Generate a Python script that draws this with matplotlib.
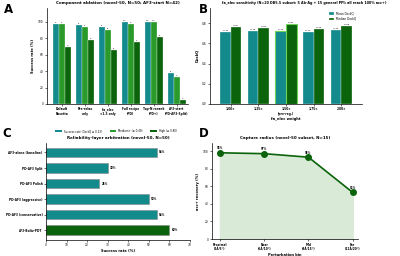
import numpy as np
import matplotlib.pyplot as plt
from matplotlib.patches import Patch

# colours
teal = '#138a8c'
green = '#2a9a2a'
dkgreen = '#0b640b'

# panel A data
abl_labels = ['Default\nRosetta', 'Pre-relax\nonly', 'fa_elec\n×1.5 only', 'Full recipe\n(PD)',
              'Top-N rerank\n(PD+)', 'AF3-start\n(PD-AF3-Split)']
abl_success = [98, 96, 94, 100, 100, 38]
abl_medium = [98, 94, 90, 98, 100, 33]
abl_high = [70, 78, 66, 76, 82, 5]

# panel B data
fa_labels = ['1.00×', '1.25×', '1.50×\n(pre-reg.)', '1.75×', '2.00×']
fa_mean = [0.714, 0.719, 0.724, 0.712, 0.732]
fa_median = [0.757, 0.750, 0.794, 0.745, 0.768]

# panel C data
arb_labels = ['AF3-alone (baseline)', 'PD-AF3 Split', 'PD-AF3 Polish', 'PD-AF3 (aggressive)',
              'PD-AF3 (conservative)', 'AF3-Boltz-PDT']
arb_rates = [54, 30, 26, 50, 54, 60]

# panel D data
bin_labels = ['Proximal\n(2Å/5°)', 'Near\n(5Å/10°)', 'Mid\n(8Å/15°)', 'Far\n(12Å/20°)']
recovery = [98, 97, 93, 53]

tfs = 2.1   # tick font size
lfs = 2.6   # axis label size
ttl = 2.9   # title size
bfs = 1.6   # bar label size

fig = plt.figure(figsize=(4, 2.56), dpi=100)

def style(ax):
    for s in ['top', 'right']:
        ax.spines[s].set_visible(False)
    for s in ['left', 'bottom']:
        ax.spines[s].set_linewidth(0.5)
    ax.tick_params(labelsize=tfs, width=0.4, length=1.5, pad=1)

#A: component ablation
axA = fig.add_axes([0.1175, 0.594, 0.353, 0.375])
x = np.arange(len(abl_labels))
w = 0.26
for off, vals, c in [(-w, abl_success, teal), (0, abl_medium, green), (w, abl_high, dkgreen)]:
    bars = axA.bar(x + off, vals, w, color=c, edgecolor='white', linewidth=0.2)
    for b, v in zip(bars, vals):
        axA.text(b.get_x() + b.get_width()/2, v + 1, str(v), ha='center', va='bottom', fontsize=bfs * 0.8)
axA.set_xticks(x)
axA.set_xticklabels(abl_labels, fontsize=tfs, fontweight='bold')
axA.set_xlim(-0.65, 5.5)
axA.set_ylim(0, 117)
axA.set_yticks([0, 20, 40, 60, 80, 100])
axA.set_ylabel('Success rate (%)', fontsize=lfs, fontweight='bold', labelpad=2)
axA.set_title('Component ablation (novel-50, N=50; AF3-start N=42)', fontsize=ttl, fontweight='bold', pad=3)
style(axA)

#B: fa_elec sensitivity
axB = fig.add_axes([0.525, 0.594, 0.38, 0.375])
x = np.arange(len(fa_labels))
w = 0.38
bm = axB.bar(x - w/2, fa_mean, w, color=teal, edgecolor='white', linewidth=0.2, label='Mean DockQ')
bd = axB.bar(x + w/2, fa_median, w, color=dkgreen, edgecolor='white', linewidth=0.2, label='Median DockQ')
bm[2].set_edgecolor('#6fd15a'); bm[2].set_linewidth(0.8)
bd[2].set_edgecolor('#6fd15a'); bd[2].set_linewidth(0.8)
for bars, vals in [(bm, fa_mean), (bd, fa_median)]:
    for b, v in zip(bars, vals):
        axB.text(b.get_x() + b.get_width()/2, v + 0.01, f'{v:.3f}', ha='center', va='bottom', fontsize=bfs)
axB.set_xticks(x)
axB.set_xticklabels(fa_labels, fontsize=tfs, fontweight='bold')
axB.set_xlim(-0.75, 4.75)
axB.set_ylim(0, 0.95)
axB.set_yticks([0, 0.2, 0.4, 0.6, 0.8])
axB.set_ylabel('DockQ', fontsize=lfs, fontweight='bold', labelpad=2)
axB.set_xlabel('fa_elec weight', fontsize=lfs, fontweight='bold', labelpad=1)
axB.set_title('fa_elec sensitivity (N=20 DB5.5 subset: 5 Ab-Ag + 15 general PPI; all reach 100% acc+)',
              fontsize=2.45, fontweight='bold', pad=3, x=0.62)
axB.legend(loc='upper right', bbox_to_anchor=(0.98, 0.99), fontsize=2.1, frameon=False,
           handlelength=1.6, handleheight=0.8)
style(axB)

#C: reliability-layer arbitration
axC = fig.add_axes([0.115, 0.0625, 0.36, 0.379])
y = np.arange(len(arb_labels))
cols = [teal] * (len(arb_labels) - 1) + [dkgreen]
axC.barh(y, arb_rates, 0.62, color=cols, edgecolor='#888888', linewidth=0.4)
for yi, v in zip(y, arb_rates):
    axC.text(v + 1, yi, f'{v}%', va='center', ha='left', fontsize=bfs * 1.2, fontweight='bold')
axC.set_yticks(y)
axC.set_yticklabels(arb_labels, fontsize=1.9, fontweight='bold')
axC.set_ylim(5.63, -0.61)
axC.set_xlim(0, 70)
axC.set_xticks(range(0, 71, 10))
axC.set_xlabel('Success rate (%)', fontsize=lfs, fontweight='bold', labelpad=1)
axC.set_title('Reliability-layer arbitration (novel-50, N=50)', fontsize=ttl, fontweight='bold', pad=3)
style(axC)

# legend for panel A sits above panel C
handles = [Patch(facecolor=teal, label='Success rate (DockQ ≥ 0.23)'),
           Patch(facecolor=green, label='Medium+ (≥ 0.49)'),
           Patch(facecolor=dkgreen, label='High (≥ 0.80)')]
fig.legend(handles=handles, loc='center', bbox_to_anchor=(0.29, 0.488), ncol=3, fontsize=1.9,
           frameon=False, handlelength=2.4, handleheight=0.8, columnspacing=3.0)

#D: capture radius
axD = fig.add_axes([0.53, 0.066, 0.365, 0.375])
x = np.arange(len(bin_labels))
axD.fill_between(x, recovery, color='#d9ead6')
axD.plot(x, recovery, color=dkgreen, lw=1.2, marker='o', ms=4)
for xi, v in zip(x, recovery):
    axD.text(xi, v + 3, f'{v}%', ha='center', va='bottom', fontsize=bfs * 1.2, fontweight='bold')
axD.set_xticks(x)
axD.set_xticklabels(bin_labels, fontsize=tfs, fontweight='bold')
axD.set_xlim(-0.18, 3.12)
axD.set_ylim(0, 109)
axD.set_yticks([0, 20, 40, 60, 80, 100])
axD.set_ylabel('acc+ recovery (%)', fontsize=lfs, fontweight='bold', labelpad=2)
axD.set_xlabel('Perturbation bin', fontsize=lfs, fontweight='bold', labelpad=1)
axD.set_title('Capture radius (novel-50 subset, N=15)', fontsize=ttl, fontweight='bold', pad=3)
style(axD)

# panel letters
for lab, px, py in [('A', 0.01, 0.99), ('B', 0.497, 0.99), ('C', 0.005, 0.505), ('D', 0.497, 0.505)]:
    fig.text(px, py, lab, fontsize=8.5, fontweight='bold', va='top', ha='left')

fig.savefig('out.png', dpi=100)
